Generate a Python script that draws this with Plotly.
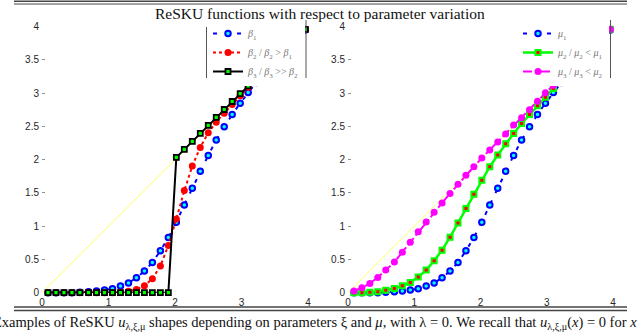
import plotly.graph_objects as go

# ---------------- data ----------------
x_vals = [0.09, 0.21, 0.33, 0.45, 0.57, 0.70, 0.82, 0.94, 1.06, 1.18, 1.30,
          1.42, 1.54, 1.66, 1.78, 1.90, 2.02, 2.14, 2.26, 2.38, 2.50, 2.62,
          2.74, 2.86, 2.98, 3.10, 3.22, 3.35, 3.47, 3.59, 3.71, 3.84, 3.96]

beta1 = [0, 0, 0, 0, 0.005, 0.015, 0.025, 0.04, 0.06, 0.10, 0.145, 0.225,
         0.325, 0.455, 0.63, 0.83, 1.06, 1.32, 1.57, 1.825, 2.065, 2.295,
         2.495, 2.68, 2.85, 3.01, 3.16, 3.30, 3.44, 3.57, 3.70, 3.83, 3.95]
beta2 = [0, 0, 0, 0, 0, 0, 0, 0, 0, 0.005, 0.02, 0.05, 0.105, 0.21, 0.40,
         0.71, 1.11, 1.535, 1.905, 2.185, 2.405, 2.565, 2.70, 2.83, 2.96,
         3.09, 3.22, 3.35, 3.47, 3.59, 3.71, 3.84, 3.96]
beta3 = [0, 0, 0, 0, 0, 0, 0, 0, 0, 0, 0, 0, 0, 0, 0, 0, 2.035, 2.155,
         2.275, 2.395, 2.515, 2.635, 2.755, 2.875, 2.995, 3.11, 3.23, 3.35,
         3.47, 3.59, 3.71, 3.84, 3.96]

mu1 = beta1
mu2 = [0, 0, 0.005, 0.015, 0.035, 0.065, 0.105, 0.155, 0.235, 0.34, 0.48,
       0.64, 0.835, 1.05, 1.265, 1.48, 1.69, 1.895, 2.07, 2.24, 2.395, 2.545,
       2.68, 2.81, 2.94, 3.07, 3.20, 3.33, 3.46, 3.58, 3.71, 3.84, 3.96]
mu3 = [0.025, 0.075, 0.14, 0.23, 0.34, 0.46, 0.61, 0.76, 0.915, 1.065,
       1.21, 1.35, 1.49, 1.63, 1.765, 1.895, 2.025, 2.145, 2.265, 2.385,
       2.52, 2.63, 2.75, 2.88, 3.005, 3.12, 3.24, 3.36, 3.48, 3.60, 3.72,
       3.84, 3.96]

identity_x = [0, 4]
identity_y = [0, 4]

tick_vals = [0, 1, 2, 3, 4]
tick_text = ["0", "1", "2", "3", "4"]
ytick_vals = [0, 0.5, 1, 1.5, 2, 2.5, 3, 3.5, 4]
ytick_text = ["0", "0.5", "1", "1.5", "2", "2.5", "3", "3.5", "4"]

title_text = "ReSKU functions with respect to parameter variation"
caption_text = ("Examples of ReSKU <i>u</i><sub>λ,ξ,μ</sub> shapes depending on parameters "
                "ξ and <i>μ</i>, with λ = 0. We recall that <i>u</i><sub>λ,ξ,μ</sub>(<i>x</i>) = 0 for <i>x</i>")

names_beta = ["<i>β</i><sub>1</sub>",
              "<i>β</i><sub>2</sub> / <i>β</i><sub>2</sub> &gt; <i>β</i><sub>1</sub>",
              "<i>β</i><sub>3</sub> / <i>β</i><sub>3</sub> &gt;&gt; <i>β</i><sub>2</sub>"]
names_mu = ["<i>μ</i><sub>1</sub>",
            "<i>μ</i><sub>2</sub> / <i>μ</i><sub>2</sub> &lt; <i>μ</i><sub>1</sub>",
            "<i>μ</i><sub>3</sub> / <i>μ</i><sub>3</sub> &lt; <i>μ</i><sub>2</sub>"]

# ---------------- figure ----------------
W, H = 640, 332
fig = go.Figure()

def px_x(p):
    return p / W

def px_y(p):
    return (H - p) / H

# identity lines (yellow)
for xa, ya in (("x", "y"), ("x2", "y2")):
    fig.add_trace(go.Scatter(x=identity_x, y=identity_y, mode="lines",
                             line=dict(color="#ffff66", width=1),
                             showlegend=False, hoverinfo="skip",
                             xaxis=xa, yaxis=ya))

blue_marker = dict(symbol="circle", size=5.5, color="#00ffff",
                   line=dict(color="#0000ff", width=2))

# left panel
fig.add_trace(go.Scatter(x=x_vals, y=beta1, name=names_beta[0], mode="lines+markers",
                         line=dict(color="#0000ff", width=2, dash="4px,8px"),
                         marker=blue_marker,
                         cliponaxis=False, legend="legend", xaxis="x", yaxis="y"))
fig.add_trace(go.Scatter(x=x_vals, y=beta2, name=names_beta[1], mode="lines+markers",
                         line=dict(color="#ff0000", width=2, dash="dot"),
                         marker=dict(symbol="circle", size=7, color="#ff0000",
                                     line=dict(color="#ff0000", width=0)),
                         cliponaxis=False, legend="legend", xaxis="x", yaxis="y"))
fig.add_trace(go.Scatter(x=x_vals, y=beta3, name=names_beta[2], mode="lines+markers",
                         line=dict(color="#000000", width=2),
                         marker=dict(symbol="square", size=5, color="#00ff00",
                                     line=dict(color="#000000", width=1.8)),
                         cliponaxis=False, legend="legend", xaxis="x", yaxis="y"))

# right panel
fig.add_trace(go.Scatter(x=x_vals, y=mu1, name=names_mu[0], mode="lines+markers",
                         line=dict(color="#0000ff", width=2, dash="4px,8px"),
                         marker=blue_marker,
                         cliponaxis=False, legend="legend2", xaxis="x2", yaxis="y2"))
fig.add_trace(go.Scatter(x=x_vals, y=mu2, name=names_mu[1], mode="lines+markers",
                         line=dict(color="#00ff00", width=2.5),
                         marker=dict(symbol="square", size=5, color="#ff0000",
                                     line=dict(color="#00ff00", width=2)),
                         cliponaxis=False, legend="legend2", xaxis="x2", yaxis="y2"))
fig.add_trace(go.Scatter(x=x_vals, y=mu3, name=names_mu[2], mode="lines+markers",
                         line=dict(color="#ff00ff", width=2, dash="dashdot"),
                         marker=dict(symbol="circle", size=7, color="#ff00ff",
                                     line=dict(color="#ff00ff", width=0)),
                         cliponaxis=False, legend="legend2", xaxis="x2", yaxis="y2"))

tick_font = dict(family="Liberation Sans, Arial, sans-serif", size=10, color="#262626")
xaxis_common = dict(range=[0, 4], tickmode="array", tickvals=tick_vals, ticktext=tick_text,
                    showgrid=False, zeroline=False, showline=False, automargin=False,
                    ticks="", tickfont=tick_font, ticklabelstandoff=2, fixedrange=True)
yaxis_common = dict(range=[0, 4], tickmode="array", tickvals=ytick_vals, ticktext=ytick_text,
                    showgrid=False, zeroline=False, showline=False, automargin=False,
                    ticks="inside", ticklen=3, tickwidth=0.8, tickcolor="#777777",
                    tickfont=tick_font, ticklabelstandoff=2, fixedrange=True)

legend_font = dict(family="Liberation Serif, serif", size=10, color="#777777")
y_dom = [px_y(292.7), px_y(26.7)]
fig.update_layout(
    width=W, height=H, autosize=False,
    margin=dict(l=0, r=0, t=0, b=0, pad=0),
    paper_bgcolor="white", plot_bgcolor="white",
    xaxis=dict(domain=[px_x(42.0), px_x(308.0)], anchor="y", **xaxis_common),
    yaxis=dict(domain=y_dom, anchor="x", **yaxis_common),
    xaxis2=dict(domain=[px_x(348.0), px_x(613.0)], anchor="y2", **xaxis_common),
    yaxis2=dict(domain=y_dom, anchor="x2", **yaxis_common),
    legend=dict(x=px_x(305), xanchor="right", y=px_y(19), yanchor="top",
                bgcolor="white", borderwidth=0, itemwidth=30,
                font=legend_font, tracegroupgap=0),
    legend2=dict(x=px_x(609), xanchor="right", y=px_y(19), yanchor="top",
                 bgcolor="white", borderwidth=0, itemwidth=30,
                 font=legend_font, tracegroupgap=0),
    showlegend=True,
)

# title and caption
fig.add_annotation(text=title_text, xref="paper", yref="paper", x=0.5, y=px_y(13),
                   xanchor="center", yanchor="middle", showarrow=False,
                   font=dict(family="Liberation Serif, Times New Roman, serif", size=15.5, color="#111111"))
fig.add_annotation(text=caption_text, xref="paper", yref="paper", x=px_x(-9), y=px_y(323),
                   xanchor="left", yanchor="middle", showarrow=False, align="left",
                   font=dict(family="Liberation Serif, Times New Roman, serif", size=14.5, color="#111111"))

# rules (top and bottom double lines)
for yy, wdt in ((1.2, 1.6), (4.0, 1.0), (307.0, 1.3), (310.5, 1.3)):
    fig.add_shape(type="line", xref="paper", yref="paper",
                  x0=px_x(14), x1=px_x(627), y0=px_y(yy), y1=px_y(yy),
                  line=dict(color="#444444", width=wdt))

# legend side borders
for xx, y_top in ((206.5, 27), (306, 20), (610.5, 20)):
    fig.add_shape(type="line", xref="paper", yref="paper",
                  x0=px_x(xx), x1=px_x(xx), y0=px_y(y_top), y1=px_y(78),
                  line=dict(color="#555555", width=1))

fig.write_html(
    "out.html",
    config={"displayModeBar": False, "staticPlot": True},
    post_script=("document.documentElement.style.margin='0';"
                 "document.documentElement.style.overflow='hidden';"
                 "document.documentElement.style.height='332px';"
                 "document.body.style.margin='0';document.body.style.padding='0';"
                 "document.body.style.overflow='hidden';document.body.style.height='332px';"),
)
